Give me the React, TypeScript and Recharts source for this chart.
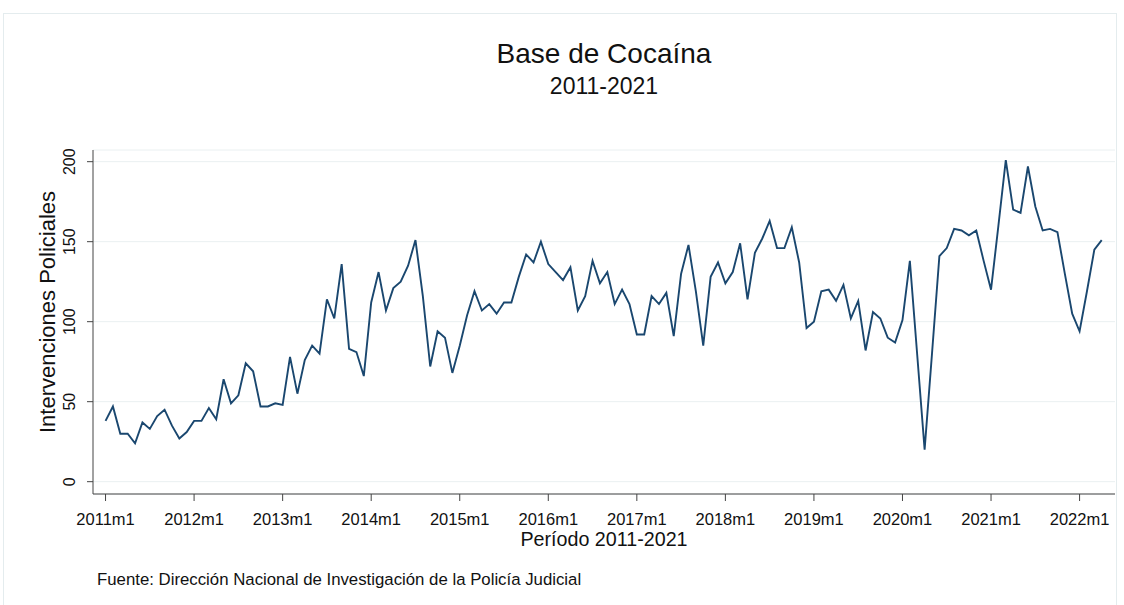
import { LineChart, Line, XAxis, YAxis, CartesianGrid } from "recharts"

// monthly counts, 2011m1 .. 2022m4
const values = [
  38, 47, 30, 30, 24, 37, 33, 41, 45, 35, 27, 31,
  38, 38, 46, 39, 64, 49, 54, 74, 69, 47, 47, 49,
  48, 78, 55, 76, 85, 80, 114, 102, 136, 83, 81, 66,
  112, 131, 107, 121, 125, 135, 151, 116, 72, 94, 90, 68,
  85, 104, 119, 107, 111, 105, 112, 112, 128, 142, 137, 150,
  136, 131, 126, 134, 107, 116, 138, 124, 131, 111, 120, 111,
  92, 92, 116, 111, 118, 91, 130, 148, 119, 85, 128, 137,
  124, 131, 149, 114, 143, 152, 163, 146, 146, 159, 137, 96,
  100, 119, 120, 113, 123, 102, 113, 82, 106, 102, 90, 87,
  101, 138, 79, 20, 80, 141, 146, 158, 157, 154, 157, 138,
  120, 160, 201, 170, 168, 197, 172, 157, 158, 156, 130, 105,
  94, 119, 145, 151,
]

const tickLabels = [
  "2011m1", "2012m1", "2013m1", "2014m1", "2015m1", "2016m1",
  "2017m1", "2018m1", "2019m1", "2020m1", "2021m1", "2022m1",
]
const xTicks = tickLabels.map((_, i) => i * 12)
const yTicks = [0, 50, 100, 150, 200]

const data = values.map((v, i) => ({ t: i, v }))

const FONT = "'Liberation Sans', Arial, Helvetica, sans-serif"
const INK = "#111"

function YTick(props: any) {
  const { x, y, payload } = props
  return (
    <text
      x={x}
      y={y}
      transform={`rotate(-90, ${x}, ${y})`}
      textAnchor="middle"
      fontSize={16}
      fill={INK}
      fontFamily={FONT}
    >
      {payload.value}
    </text>
  )
}

export default function App() {
  return (
    <div
      style={{
        position: "absolute",
        left: 0,
        top: 0,
        width: 1124,
        height: 605,
        background: "#fff",
        overflow: "hidden",
      }}
    >
      <LineChart
        width={1124}
        height={605}
        data={data}
        margin={{ top: 150, right: 9, bottom: 81, left: 33 }}
      >
        <CartesianGrid vertical={false} stroke="#eaf0f1" />
        <XAxis
          dataKey="t"
          type="number"
          domain={[-1.7, 136.8]}
          allowDataOverflow
          ticks={xTicks}
          interval={0}
          height={30}
          tickSize={7}
          tickMargin={12}
          tickFormatter={(v: number) => tickLabels[v / 12]}
          stroke="#444"
          tick={{ fontSize: 16.5, fill: INK, fontFamily: FONT }}
        />
        <YAxis
          type="number"
          domain={[-7.7, 207.3]}
          allowDataOverflow
          ticks={yTicks}
          interval={0}
          width={60}
          tickSize={6}
          tickMargin={12}
          stroke="#444"
          tick={<YTick />}
        />
        <Line
          type="linear"
          dataKey="v"
          stroke="#1a476f"
          strokeWidth={1.9}
          dot={false}
          isAnimationActive={false}
        />
      </LineChart>
      <svg
        width={1124}
        height={605}
        style={{ position: "absolute", left: 0, top: 0, pointerEvents: "none" }}
        fontFamily={FONT}
      >
        <rect x={3.5} y={13.5} width={1113} height={620} fill="none" stroke="#e4ecee" />
        <text x={604} y={63} textAnchor="middle" fontSize={28} fill={INK}>
          Base de Cocaína
        </text>
        <text x={604} y={94} textAnchor="middle" fontSize={23} fill={INK}>
          2011-2021
        </text>
        <text x={604} y={546} textAnchor="middle" fontSize={19.7} fill={INK}>
          Período 2011-2021
        </text>
        <text
          x={55}
          y={312}
          transform="rotate(-90, 55, 312)"
          textAnchor="middle"
          fontSize={22}
          fill={INK}
        >
          Intervenciones Policiales
        </text>
        <text x={97} y={585} fontSize={16.8} fill={INK}>
          Fuente: Dirección Nacional de Investigación de la Policía Judicial
        </text>
      </svg>
    </div>
  )
}
